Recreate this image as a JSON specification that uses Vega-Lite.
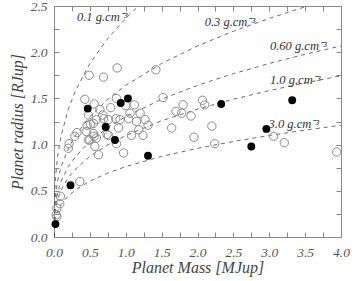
{
  "$schema": "https://vega.github.io/schema/vega-lite/v6.json",
  "width": 287,
  "height": 231,
  "autosize": "none",
  "padding": {"left": 54, "top": 6, "right": 16, "bottom": 44},
  "background": "white",
  "config": {
    "view": {"stroke": "#888", "strokeWidth": 1},
    "axis": {
      "labelFont": "Liberation Serif",
      "labelFontStyle": "italic",
      "labelFontSize": 13.5,
      "labelColor": "#555",
      "titleFont": "Liberation Serif",
      "titleFontStyle": "italic",
      "titleFontWeight": "normal",
      "titleFontSize": 16,
      "titleColor": "#444",
      "domainColor": "#888",
      "tickColor": "#888",
      "tickSize": -5,
      "grid": false
    }
  },
  "datasets": {
    "curves": [
      {"M": 0, "R": 0, "rho": "0.1"}, {"M": 0.001, "R": 0.237, "rho": "0.1"}, {"M": 0.005, "R": 0.405, "rho": "0.1"}, {"M": 0.02, "R": 0.643, "rho": "0.1"}, {"M": 0.05, "R": 0.872, "rho": "0.1"}, {"M": 0.1, "R": 1.099, "rho": "0.1"}, {"M": 0.2, "R": 1.384, "rho": "0.1"}, {"M": 0.3, "R": 1.584, "rho": "0.1"}, {"M": 0.5, "R": 1.878, "rho": "0.1"}, {"M": 0.75, "R": 2.15, "rho": "0.1"}, {"M": 1.0, "R": 2.366, "rho": "0.1"}, {"M": 1.178, "R": 2.5, "rho": "0.1"},
      {"M": 0, "R": 0, "rho": "0.3"}, {"M": 0.001, "R": 0.164, "rho": "0.3"}, {"M": 0.005, "R": 0.281, "rho": "0.3"}, {"M": 0.02, "R": 0.446, "rho": "0.3"}, {"M": 0.05, "R": 0.605, "rho": "0.3"}, {"M": 0.1, "R": 0.762, "rho": "0.3"}, {"M": 0.2, "R": 0.96, "rho": "0.3"}, {"M": 0.3, "R": 1.099, "rho": "0.3"}, {"M": 0.5, "R": 1.303, "rho": "0.3"}, {"M": 0.75, "R": 1.491, "rho": "0.3"}, {"M": 1.0, "R": 1.641, "rho": "0.3"}, {"M": 1.5, "R": 1.878, "rho": "0.3"}, {"M": 2.0, "R": 2.068, "rho": "0.3"}, {"M": 2.5, "R": 2.227, "rho": "0.3"}, {"M": 3.0, "R": 2.366, "rho": "0.3"}, {"M": 3.535, "R": 2.5, "rho": "0.3"},
      {"M": 0, "R": 0, "rho": "0.6"}, {"M": 0.001, "R": 0.13, "rho": "0.6"}, {"M": 0.005, "R": 0.223, "rho": "0.6"}, {"M": 0.02, "R": 0.354, "rho": "0.6"}, {"M": 0.05, "R": 0.48, "rho": "0.6"}, {"M": 0.1, "R": 0.605, "rho": "0.6"}, {"M": 0.2, "R": 0.762, "rho": "0.6"}, {"M": 0.3, "R": 0.872, "rho": "0.6"}, {"M": 0.5, "R": 1.034, "rho": "0.6"}, {"M": 0.75, "R": 1.183, "rho": "0.6"}, {"M": 1.0, "R": 1.303, "rho": "0.6"}, {"M": 1.5, "R": 1.491, "rho": "0.6"}, {"M": 2.0, "R": 1.641, "rho": "0.6"}, {"M": 2.5, "R": 1.768, "rho": "0.6"}, {"M": 3.0, "R": 1.878, "rho": "0.6"}, {"M": 3.5, "R": 1.977, "rho": "0.6"}, {"M": 4.0, "R": 2.068, "rho": "0.6"},
      {"M": 0, "R": 0, "rho": "1.0"}, {"M": 0.001, "R": 0.11, "rho": "1.0"}, {"M": 0.005, "R": 0.188, "rho": "1.0"}, {"M": 0.02, "R": 0.298, "rho": "1.0"}, {"M": 0.05, "R": 0.405, "rho": "1.0"}, {"M": 0.1, "R": 0.51, "rho": "1.0"}, {"M": 0.2, "R": 0.643, "rho": "1.0"}, {"M": 0.3, "R": 0.735, "rho": "1.0"}, {"M": 0.5, "R": 0.872, "rho": "1.0"}, {"M": 0.75, "R": 0.998, "rho": "1.0"}, {"M": 1.0, "R": 1.099, "rho": "1.0"}, {"M": 1.5, "R": 1.258, "rho": "1.0"}, {"M": 2.0, "R": 1.384, "rho": "1.0"}, {"M": 2.5, "R": 1.491, "rho": "1.0"}, {"M": 3.0, "R": 1.584, "rho": "1.0"}, {"M": 3.5, "R": 1.668, "rho": "1.0"}, {"M": 4.0, "R": 1.744, "rho": "1.0"},
      {"M": 0, "R": 0, "rho": "3.0"}, {"M": 0.001, "R": 0.076, "rho": "3.0"}, {"M": 0.005, "R": 0.13, "rho": "3.0"}, {"M": 0.02, "R": 0.207, "rho": "3.0"}, {"M": 0.05, "R": 0.281, "rho": "3.0"}, {"M": 0.1, "R": 0.354, "rho": "3.0"}, {"M": 0.2, "R": 0.446, "rho": "3.0"}, {"M": 0.3, "R": 0.51, "rho": "3.0"}, {"M": 0.5, "R": 0.605, "rho": "3.0"}, {"M": 0.75, "R": 0.692, "rho": "3.0"}, {"M": 1.0, "R": 0.762, "rho": "3.0"}, {"M": 1.5, "R": 0.872, "rho": "3.0"}, {"M": 2.0, "R": 0.96, "rho": "3.0"}, {"M": 2.5, "R": 1.034, "rho": "3.0"}, {"M": 3.0, "R": 1.099, "rho": "3.0"}, {"M": 3.5, "R": 1.157, "rho": "3.0"}, {"M": 4.0, "R": 1.209, "rho": "3.0"}
    ],
    "open": [
      {"M": 0.49, "R": 1.75}, {"M": 0.69, "R": 1.73}, {"M": 0.88, "R": 1.83}, {"M": 1.42, "R": 1.81},
      {"M": 0.43, "R": 1.49}, {"M": 0.56, "R": 1.44}, {"M": 0.64, "R": 1.38}, {"M": 0.79, "R": 1.40}, {"M": 0.87, "R": 1.50}, {"M": 1.52, "R": 1.51},
      {"M": 0.48, "R": 1.32}, {"M": 0.68, "R": 1.32}, {"M": 0.59, "R": 1.27}, {"M": 0.76, "R": 1.27}, {"M": 0.86, "R": 1.28}, {"M": 0.46, "R": 1.21}, {"M": 0.51, "R": 1.22},
      {"M": 1.00, "R": 1.42}, {"M": 1.12, "R": 1.43}, {"M": 1.06, "R": 1.34}, {"M": 1.20, "R": 1.34}, {"M": 1.04, "R": 1.28}, {"M": 1.15, "R": 1.25}, {"M": 1.27, "R": 1.27}, {"M": 1.31, "R": 1.21}, {"M": 1.18, "R": 1.16}, {"M": 1.08, "R": 1.10}, {"M": 1.24, "R": 1.10},
      {"M": 0.76, "R": 1.10}, {"M": 0.56, "R": 1.09}, {"M": 0.48, "R": 1.05}, {"M": 0.57, "R": 0.98}, {"M": 0.32, "R": 1.13}, {"M": 0.29, "R": 1.09}, {"M": 0.21, "R": 1.01}, {"M": 0.20, "R": 0.96}, {"M": 0.87, "R": 1.01}, {"M": 0.62, "R": 0.89}, {"M": 0.97, "R": 0.91}, {"M": 0.90, "R": 1.18}, {"M": 0.92, "R": 1.27}, {"M": 0.69, "R": 1.28}, {"M": 0.55, "R": 1.23}, {"M": 0.45, "R": 1.14}, {"M": 0.55, "R": 1.12}, {"M": 0.50, "R": 1.05}, {"M": 0.59, "R": 1.07}, {"M": 0.74, "R": 1.11},
      {"M": 1.64, "R": 1.18}, {"M": 1.78, "R": 1.34}, {"M": 1.70, "R": 1.36}, {"M": 1.80, "R": 1.43}, {"M": 1.91, "R": 1.31}, {"M": 2.07, "R": 1.48}, {"M": 2.10, "R": 1.43}, {"M": 2.20, "R": 1.20}, {"M": 1.95, "R": 1.08}, {"M": 2.24, "R": 1.01}, {"M": 3.06, "R": 1.09}, {"M": 3.21, "R": 1.02}, {"M": 3.94, "R": 0.92},
      {"M": 0.36, "R": 0.60}, {"M": 0.09, "R": 0.44}, {"M": 0.08, "R": 0.36}, {"M": 0.04, "R": 0.31}, {"M": 0.03, "R": 0.24}, {"M": 0.04, "R": 0.22}
    ],
    "filled": [
      {"M": 0.02, "R": 0.14}, {"M": 0.23, "R": 0.56}, {"M": 0.47, "R": 1.39}, {"M": 0.72, "R": 1.19}, {"M": 0.85, "R": 1.05}, {"M": 0.93, "R": 1.45}, {"M": 1.03, "R": 1.50}, {"M": 1.31, "R": 0.88}, {"M": 2.33, "R": 1.44}, {"M": 3.32, "R": 1.48}, {"M": 2.96, "R": 1.17}, {"M": 2.75, "R": 0.98}
    ],
    "labels": [
      {"M": 0.32, "R": 2.38, "text": "0.1 g.cm⁻³"},
      {"M": 2.10, "R": 2.33, "text": "0.3 g.cm⁻³"},
      {"M": 3.01, "R": 2.07, "text": "0.60 g.cm⁻³"},
      {"M": 3.01, "R": 1.70, "text": "1.0 g.cm⁻³"},
      {"M": 2.99, "R": 1.22, "text": "3.0 g.cm⁻³"}
    ]
  },
  "resolve": {"axis": {"x": "independent", "y": "independent"}},
  "layer": [
    {
      "data": {"name": "curves"},
      "mark": {"type": "line", "strokeDash": [4, 4], "color": "#444", "strokeWidth": 0.8, "clip": true},
      "encoding": {
        "x": {"field": "M", "type": "quantitative", "scale": {"domain": [0, 4], "nice": false, "zero": false},
          "axis": {"orient": "bottom", "title": "Planet Mass [MJup]", "values": [0,0.25,0.5,0.75,1,1.25,1.5,1.75,2,2.25,2.5,2.75,3,3.25,3.5,3.75,4],
            "labelExpr": "datum.value % 0.5 == 0 ? format(datum.value, '.1f') : ''", "labelPadding": 13, "titlePadding": 1, "labelFlush": false, "labelOverlap": false}},
        "y": {"field": "R", "type": "quantitative", "scale": {"domain": [0, 2.5], "nice": false, "zero": false},
          "axis": {"orient": "left", "title": "Planet radius [RJup]", "values": [0,0.25,0.5,0.75,1,1.25,1.5,1.75,2,2.25,2.5],
            "labelExpr": "datum.value % 0.5 == 0 ? format(datum.value, '.1f') : ''", "labelPadding": 12, "titlePadding": 5, "labelFlush": false, "labelOverlap": false}},
        "detail": {"field": "rho", "type": "nominal"}
      }
    },
    {
      "data": {"name": "open"},
      "mark": {"type": "point", "filled": false, "color": "#8a8a8a", "size": 70, "strokeWidth": 1, "opacity": 1},
      "encoding": {
        "x": {"field": "M", "type": "quantitative", "axis": null},
        "y": {"field": "R", "type": "quantitative", "axis": null}
      }
    },
    {
      "data": {"name": "filled"},
      "mark": {"type": "point", "filled": true, "color": "#000", "size": 62, "opacity": 1},
      "encoding": {
        "x": {"field": "M", "type": "quantitative", "axis": null},
        "y": {"field": "R", "type": "quantitative", "axis": null}
      }
    },
    {
      "data": {"name": "labels"},
      "mark": {"type": "text", "align": "left", "baseline": "middle", "font": "Liberation Serif", "fontStyle": "italic", "fontSize": 12.5, "color": "#333"},
      "encoding": {
        "x": {"field": "M", "type": "quantitative", "axis": null},
        "y": {"field": "R", "type": "quantitative", "axis": null},
        "text": {"field": "text"}
      }
    },
    {
      "data": {"name": "filled"},
      "mark": {"type": "point", "opacity": 0},
      "encoding": {
        "x": {"field": "M", "type": "quantitative",
          "axis": {"orient": "top", "title": null, "labels": false, "values": [0,0.25,0.5,0.75,1,1.25,1.5,1.75,2,2.25,2.5,2.75,3,3.25,3.5,3.75,4]}},
        "y": {"field": "R", "type": "quantitative",
          "axis": {"orient": "right", "title": null, "labels": false, "values": [0,0.25,0.5,0.75,1,1.25,1.5,1.75,2,2.25,2.5]}}
      }
    }
  ]
}
